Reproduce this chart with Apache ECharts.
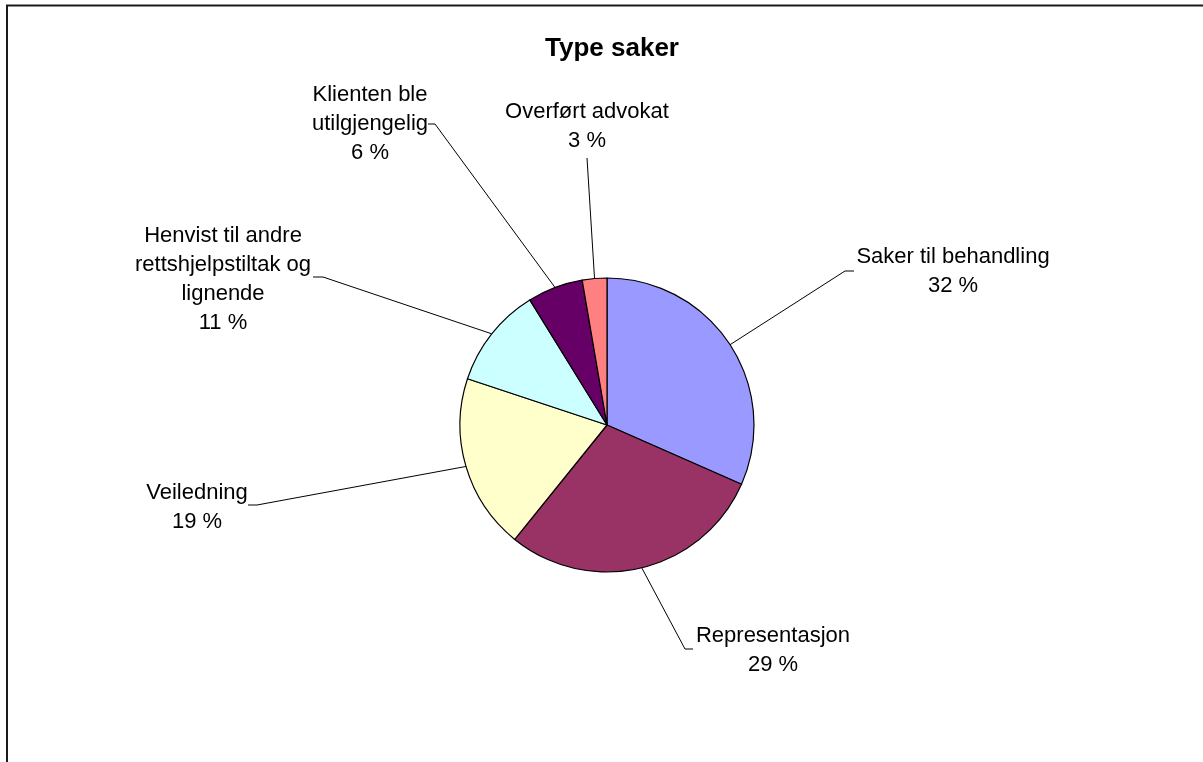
<!DOCTYPE html>
<html><head><meta charset="utf-8">
<script src="https://cdn.jsdelivr.net/npm/echarts@6/dist/echarts.min.js"></script>
<style>html,body{margin:0;padding:0;background:#fff}#c{width:1203px;height:762px}</style>
</head><body><div id="c"></div>
<script>
// ---- data ----
const chartTitle = 'Type saker';
const categories = [
  'Saker til behandling',
  'Representasjon',
  'Veiledning',
  'Henvist til andre\nrettshjelpstiltak og\nlignende',
  'Klienten ble\nutilgjengelig',
  'Overført advokat'
];
const shares = [31.6, 29.2, 19.3, 11.1, 6.1, 2.7];
const colors = ['#9999FF', '#993366', '#FFFFCC', '#CCFFFF', '#660066', '#FF8080'];

// ---- label layout (positions only) ----
const labelCenters = [[953, 271], [773, 650], [197, 507], [223, 279], [370, 123.5], [587, 126.5]];
const leaderEnds = [
  [[845, 271], [854, 271]],
  [[685, 649], [693, 649]],
  [[257, 505], [248, 505]],
  [[323, 277], [313, 277]],
  [[435, 124], [428, 124]],
  [[587, 158]]
];

const FONT = '"Liberation Sans", Arial, sans-serif';
const chart = echarts.init(document.getElementById('c'), null, {renderer: 'canvas'});
chart.setOption({
  animation: false,
  backgroundColor: '#fff',
  title: {
    text: chartTitle,
    left: 607, top: 31, textAlign: 'center',
    textStyle: {fontFamily: FONT, fontSize: 26, fontWeight: 'bold', color: '#000'}
  },
  graphic: [{
    type: 'rect', silent: true,
    shape: {x: 7, y: 5.5, width: 1400, height: 1000},
    style: {fill: 'none', stroke: '#1a1a1a', lineWidth: 2}
  }],
  series: [{
    type: 'pie',
    center: [607, 425],
    radius: 147,
    startAngle: 90,
    clockwise: true,
    percentPrecision: 0,
    avoidLabelOverlap: false,
    itemStyle: {borderColor: '#000', borderWidth: 1.2},
    label: {
      show: true, position: 'outside',
      formatter: '{b}\n{d} %',
      fontFamily: FONT, fontSize: 22, color: '#000', lineHeight: 29, align: 'center'
    },
    labelLine: {show: true, lineStyle: {color: '#000', width: 1}},
    labelLayout: function (p) {
      const i = p.dataIndex;
      const start = p.labelLinePoints[0];
      return {
        x: labelCenters[i][0], y: labelCenters[i][1],
        align: 'center', verticalAlign: 'middle',
        labelLinePoints: [start].concat(leaderEnds[i])
      };
    },
    emphasis: {disabled: true},
    data: categories.map((c, i) => ({name: c, value: shares[i], itemStyle: {color: colors[i]}}))
  }]
});
</script></body></html>
